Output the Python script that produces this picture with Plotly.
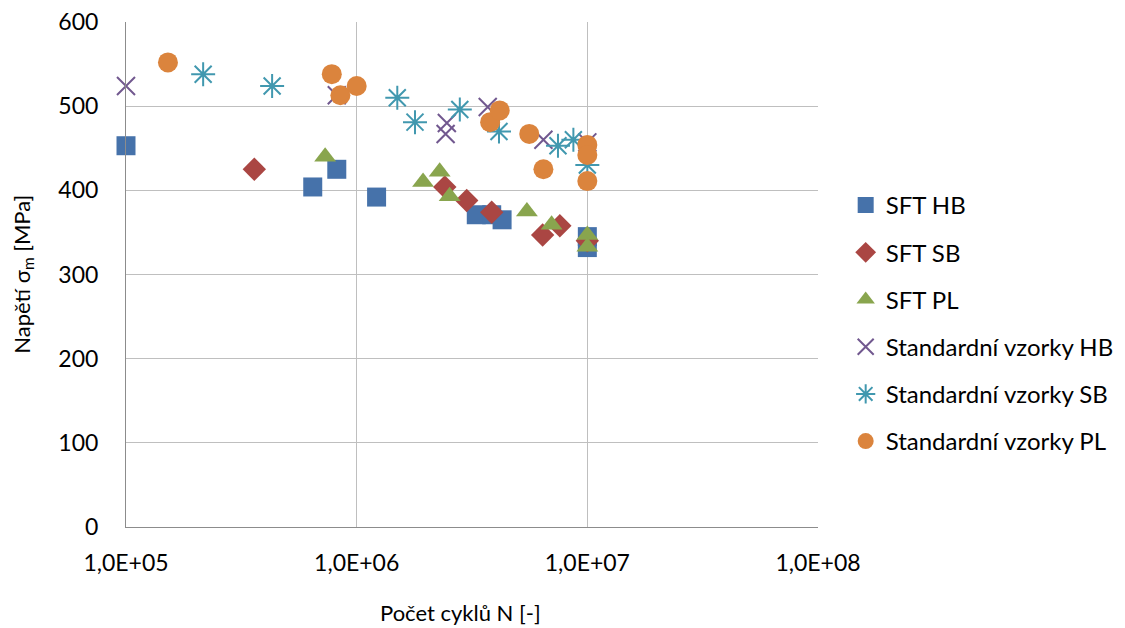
import plotly.graph_objects as go

# ---- data ----
sft_hb_n = [1.0e5, 6.45e5, 8.2e5, 1.22e6, 3.3e6, 3.85e6, 4.27e6, 1.0e7, 1.0e7]
sft_hb_s = [453, 404, 425, 392, 371, 371, 365, 345, 332]

sft_sb_n = [3.6e5, 2.41e6, 3.0e6, 3.85e6, 6.4e6, 7.6e6, 1.0e7]
sft_sb_s = [425, 404, 388, 374, 347, 358, 340]

sft_pl_n = [7.3e5, 1.94e6, 2.29e6, 2.53e6, 5.47e6, 7.0e6, 1.0e7, 1.0e7]
sft_pl_s = [440, 410, 422, 393, 375, 359, 347, 333]

std_hb_n = [1.0e5, 8.2e5, 2.46e6, 2.43e6, 3.7e6, 6.45e6, 1.0e7]
std_hb_s = [524, 513, 480, 467, 499, 460, 457]

std_sb_n = [2.16e5, 4.3e5, 1.5e6, 1.79e6, 2.8e6, 4.14e6, 7.46e6, 8.7e6, 1.0e7]
std_sb_s = [538, 524, 510, 481, 496, 470, 453, 460, 430]

std_pl_n = [1.52e5, 7.8e5, 8.5e5, 1.0e6, 3.79e6, 4.17e6, 5.6e6, 6.45e6, 1.0e7, 1.0e7, 1.0e7]
std_pl_s = [552, 538, 513, 524, 481, 495, 467, 425, 454, 442, 411]

x_tickvals = [1e5, 1e6, 1e7, 1e8]
x_ticktext = ["1,0E+05", "1,0E+06", "1,0E+07", "1,0E+08"]
y_tickvals = [0, 100, 200, 300, 400, 500, 600]

x_title = "Počet cyklů N [-]"
y_title = "Napětí σ<sub>m</sub> [MPa]"

series = [
    ("SFT HB", sft_hb_n, sft_hb_s, "square", "#4672AA", 19, 1),
    ("SFT SB", sft_sb_n, sft_sb_s, "diamond", "#AA4643", 18, 1),
    ("SFT PL", sft_pl_n, sft_pl_s, "triangle-up", "#89A54E", 19, 1),
    ("Standardní vzorky HB", std_hb_n, std_hb_s, "x-thin-open", "#71588F", 18, 2),
    ("Standardní vzorky SB", std_sb_n, std_sb_s, "asterisk-open", "#4198AF", 20, 2),
    ("Standardní vzorky PL", std_pl_n, std_pl_s, "circle", "#DB843D", 20, 1),
]

FONT = "Lato, 'Open Sans', sans-serif"

fig = go.Figure()
for i, (name, xs, ys, sym, col, size, lw) in enumerate(series):
    marker = dict(symbol=sym, size=size, color=col)
    if "open" in sym:
        marker["line"] = dict(color=col, width=lw)
    else:
        marker["line"] = dict(width=0)
    fig.add_trace(go.Scatter(
        x=xs, y=ys, mode="markers", name=name, marker=marker,
        legendgroup=f"g{i}", cliponaxis=False,
    ))

fig.update_layout(
    width=1117, height=620,
    paper_bgcolor="white", plot_bgcolor="white",
    margin=dict(l=118, r=307, t=14, b=101, autoexpand=False),
    font=dict(family=FONT, size=23, color="#000000"),
    legend=dict(
        x=1.04, xanchor="left", y=0.403, yanchor="middle",
        font=dict(family=FONT, size=24, color="#000000"),
        traceorder="grouped", tracegroupgap=13,
        itemwidth=30, bgcolor="rgba(0,0,0,0)",
    ),
    showlegend=True,
    annotations=[
        dict(text=x_title, xref="paper", yref="paper", x=0.4827, y=-0.170,
             xanchor="center", yanchor="middle", showarrow=False,
             font=dict(family=FONT, size=22, color="#000000")),
        dict(text=y_title, xref="paper", yref="paper", x=-0.150, y=0.50,
             xanchor="center", yanchor="middle", showarrow=False, textangle=-90,
             font=dict(family=FONT, size=22, color="#000000")),
    ],
)

fig.update_xaxes(
    type="log", range=[5, 8], automargin=False,
    tickvals=x_tickvals, ticktext=x_ticktext,
    showgrid=True, gridcolor="#BFBFBF", gridwidth=1,
    showline=True, linecolor="#8C8C8C", linewidth=1,
    ticks="", ticklabelstandoff=15, ticklabeloverflow="allow",
    tickfont=dict(family=FONT, size=23),
    zeroline=False,
)
fig.update_yaxes(
    range=[0, 600], tickvals=y_tickvals, automargin=False,
    showgrid=True, gridcolor="#BFBFBF", gridwidth=1,
    showline=True, linecolor="#8C8C8C", linewidth=1,
    ticks="", ticklabelstandoff=22, ticklabeloverflow="allow",
    tickfont=dict(family=FONT, size=23),
    zeroline=False,
)

fig.write_html("out.html")
